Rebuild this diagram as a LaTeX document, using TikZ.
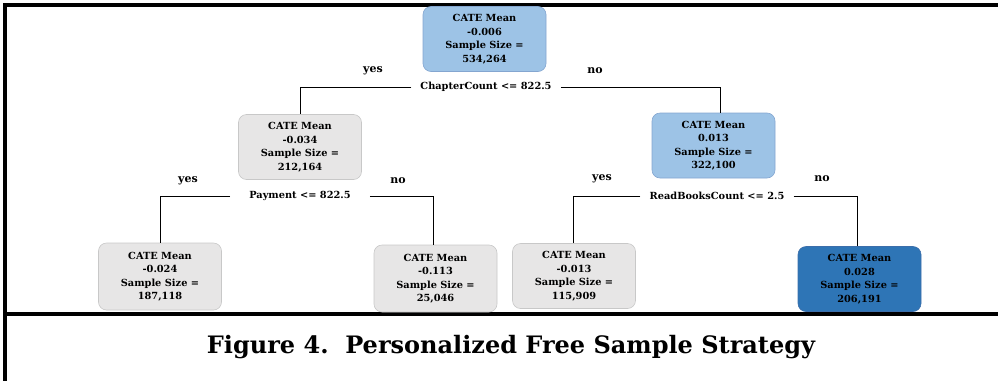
\documentclass[tikz,border=0pt]{standalone}
\usepackage{fontspec}
\setmainfont{DejaVu Serif}
\definecolor{paleblue}{RGB}{157,195,230}
\definecolor{paleblueline}{RGB}{132,166,208}
\definecolor{palegray}{RGB}{231,230,230}
\definecolor{palegrayline}{RGB}{200,200,200}
\definecolor{deepblue}{RGB}{46,117,182}
\definecolor{deepblueline}{RGB}{60,110,170}
\begin{document}
\begin{tikzpicture}[x=1pt,y=-1pt,
  treebox/.style={rectangle,rounded corners=8pt,line width=0.6pt,
    minimum width=123pt,minimum height=65pt,inner sep=0pt,align=center,
    font=\fontsize{9.8}{13.5}\selectfont\bfseries},
  bluebox/.style={treebox,fill=paleblue,draw=paleblueline},
  graybox/.style={treebox,fill=palegray,draw=palegrayline},
  darkbox/.style={treebox,fill=deepblue,draw=deepblueline},
  splitlabel/.style={inner xsep=9pt,inner ysep=4pt,font=\fontsize{9.8}{11}\selectfont\bfseries},
  answer/.style={inner sep=0pt,font=\fontsize{11}{13}\selectfont\bfseries},
  branch/.style={line width=0.7pt,black},
  frame/.style={line width=3.2pt,black}]
\useasboundingbox (0,0) rectangle (998,381);

% outer frame and caption separator
\draw[frame] (998,5) -- (5,5) -- (5,381);
\draw[frame] (5,314) -- (998,314);

% tree nodes
\node[bluebox] (root) at (484.5,39) {CATE Mean\\-0.006\\Sample Size =\\534,264};
\node[graybox] (ml) at (300,147) {CATE Mean\\-0.034\\Sample Size =\\212,164};
\node[bluebox] (mr) at (713.5,145.5) {CATE Mean\\0.013\\Sample Size =\\322,100};
\node[graybox,minimum height=67pt] (ll) at (160,276.5) {CATE Mean\\-0.024\\Sample Size =\\187,118};
\node[graybox,minimum height=67pt] (lr) at (435.5,278.5) {CATE Mean\\-0.113\\Sample Size =\\25,046};
\node[graybox] (rl) at (574,276) {CATE Mean\\-0.013\\Sample Size =\\115,909};
\node[darkbox] (rr) at (859.5,279) {CATE Mean\\0.028\\Sample Size =\\206,191};

% split conditions
\node[splitlabel] (s0) at (486,87) {ChapterCount <= 822.5};
\node[splitlabel,inner xsep=19pt] (s1) at (300,196) {Payment <= 822.5};
\node[splitlabel] (s2) at (717,196) {ReadBooksCount <= 2.5};

% branch answers
\node[answer] (y0) at (373,71) {yes};
\node[answer] (n0) at (595,71) {no};
\node[answer] (y1) at (188,181) {yes};
\node[answer] (n1) at (398,181) {no};
\node[answer] (y2) at (602,179) {yes};
\node[answer] (n2) at (822,179) {no};

% branches
\draw[branch] (s0.west) -| (ml.north);
\draw[branch] (s0.east) -| ([xshift=7pt]mr.north);
\draw[branch] (s1.west) -| (ll.north);
\draw[branch] (s1.east) -| ([xshift=-2pt]lr.north);
\draw[branch] (s2.west) -| ([xshift=-1pt]rl.north);
\draw[branch] (s2.east) -| ([xshift=-2pt]rr.north);

% caption
\node[font=\fontsize{24}{28}\selectfont\bfseries] (caption) at (511,347)
  {Figure 4.\ \ Personalized Free Sample Strategy};
\end{tikzpicture}
\end{document}
